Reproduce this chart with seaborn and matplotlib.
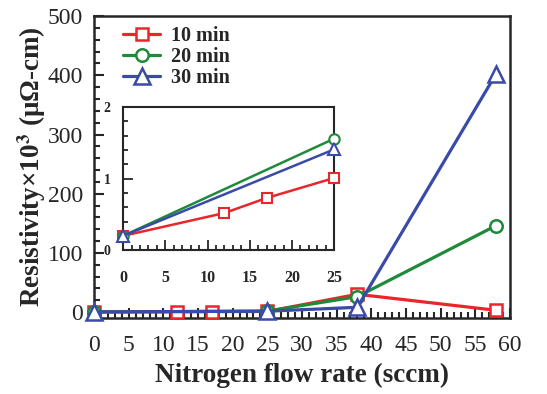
import numpy as np
import pandas as pd
import seaborn as sns
import matplotlib
matplotlib.use("Agg")
import matplotlib.pyplot as plt
from matplotlib.ticker import MultipleLocator

sns.set_style("ticks")
plt.rcParams['font.family'] = ['Liberation Serif', 'DejaVu Serif']
plt.rcParams['mathtext.fontset'] = 'stix'

# ---- data ----
series = ["10 min", "20 min", "30 min"]
x_10 = [0, 12, 17, 25, 38, 58]
y_10 = [0.2, 0.52, 0.73, 1.01, 30, 3]
x_20 = [0, 25, 38, 58]
y_20 = [0.2, 1.56, 26, 146]
x_30 = [0, 25, 38, 58]
y_30 = [0.2, 1.41, 8, 402]

colors = ["#e8262b", "#1e8a3a", "#3a4aa8"]
markers = ["s", "o", "^"]

xs = [x_10, x_20, x_30]
ys = [y_10, y_20, y_30]

fig = plt.figure(figsize=(5.47, 3.94), dpi=100)
ax = fig.add_axes([0.172, 0.193, 0.760, 0.766])

for name, x, y, c, m in zip(series, xs, ys, colors, markers):
    df = pd.DataFrame({"x": x, "y": y})
    sns.lineplot(data=df, x="x", y="y", ax=ax, color=c, marker=m,
                 ms=(11 if m == "^" else 9),
                 mfc="white", mec=c, mew=1.8, lw=2.3, label=name,
                 clip_on=False, zorder=3)

ax.set_xlim(0, 60)
ax.set_ylim(-10, 500)
ax.xaxis.set_major_locator(MultipleLocator(5))
ax.xaxis.set_minor_locator(MultipleLocator(1))
ax.yaxis.set_major_locator(MultipleLocator(100))
ax.yaxis.set_minor_locator(MultipleLocator(20))
ax.tick_params(which="both", direction="in", width=1.5, labelsize=17, top=False, right=False)
ax.tick_params(axis="x", pad=12)
ax.tick_params(axis="y", pad=8)
ax.tick_params(which="major", length=7)
ax.tick_params(which="minor", length=4)
for s in ax.spines.values():
    s.set_linewidth(1.8)
ax.set_xlabel("Nitrogen flow rate (sccm)", fontsize=19.5, fontweight="bold", labelpad=5)
ax.set_ylabel(r"Resistivity×10$^{\mathbf{3}}$ (μΩ-cm)", fontsize=19.5, fontweight="bold", labelpad=0)

leg = ax.legend(loc="upper left", frameon=False, prop={"weight": "bold", "size": 14.5},
                handlelength=1.85, handletextpad=0.55, labelspacing=0.05,
                borderaxespad=0.0, bbox_to_anchor=(0.05, 0.995))

# ---- inset ----
axi = fig.add_axes([0.225, 0.365, 0.386, 0.363])
for name, x, y, c, m in zip(series, xs, ys, colors, markers):
    xi = [a for a in x if a <= 25]
    yi = [b for a, b in zip(x, y) if a <= 25]
    df = pd.DataFrame({"x": xi, "y": yi})
    sns.lineplot(data=df, x="x", y="y", ax=axi, color=c, marker=m,
                 ms=(9 if m == "^" else 7.5),
                 mfc="white", mec=c, mew=1.5, lw=1.8, clip_on=False, legend=False,
                 zorder=3)
axi.set_xlim(0, 25)
axi.set_ylim(0, 2)
axi.xaxis.set_major_locator(MultipleLocator(5))
axi.xaxis.set_minor_locator(MultipleLocator(1))
axi.yaxis.set_major_locator(MultipleLocator(1))
axi.yaxis.set_minor_locator(MultipleLocator(0.2))
axi.tick_params(which="both", direction="in", width=1.3, top=False, right=False)
axi.tick_params(axis="x", labelsize=11.5, pad=14)
axi.tick_params(axis="y", labelsize=10, pad=9)
axi.tick_params(which="major", length=7)
axi.tick_params(which="minor", length=3.5)
for lab in axi.get_xticklabels() + axi.get_yticklabels():
    lab.set_fontweight("bold")
for s in axi.spines.values():
    s.set_linewidth(1.5)
axi.set_xlabel("")
axi.set_ylabel("")

fig.savefig("out.png", dpi=100)
